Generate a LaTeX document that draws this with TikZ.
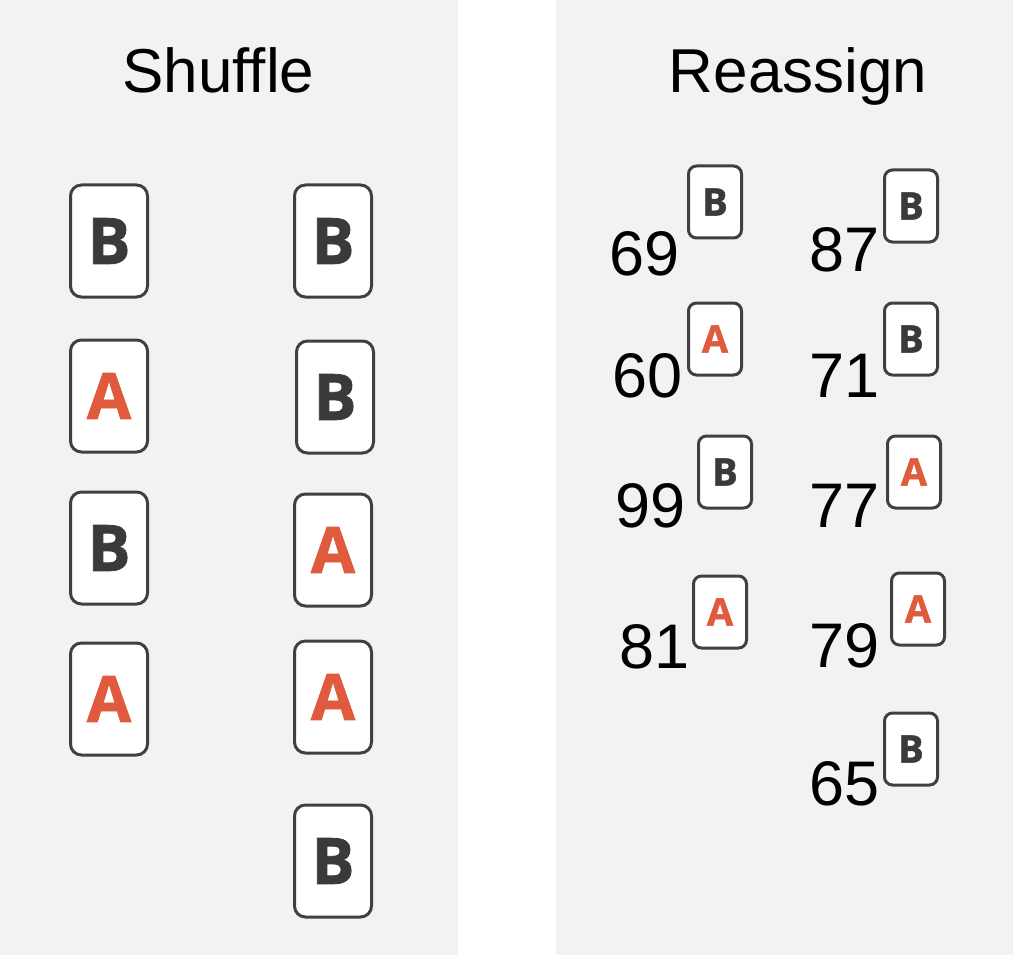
\documentclass[tikz,border=0pt]{standalone}
\usepackage{fontspec}
\setmainfont{Liberation Sans}
\newfontfamily\cardfont{Open Sans}[BoldFeatures={FakeBold=1.3}]
\definecolor{panelbg}{HTML}{F2F2F2}
\definecolor{cardline}{HTML}{404040}
\definecolor{letterB}{HTML}{3A3A3A}
\definecolor{letterA}{HTML}{E05A3D}
\tikzset{
  bigcard/.style={draw=cardline, fill=white, line width=3pt, rounded corners=11pt,
    minimum width=77pt, minimum height=112pt, inner sep=0pt,
    font=\cardfont\bfseries\fontsize{64}{64}\selectfont},
  smallcard/.style={draw=cardline, fill=white, line width=3pt, rounded corners=8pt,
    minimum width=53pt, minimum height=72pt, inner sep=0pt,
    font=\cardfont\bfseries\fontsize{38}{38}\selectfont},
  lA/.style={text=letterA},
  lB/.style={text=letterB},
  num/.style={anchor=base west, inner sep=0pt, font=\fontsize{63}{63}\selectfont},
  title/.style={anchor=base, inner sep=0pt, font=\fontsize{62}{62}\selectfont}
}
\begin{document}
\begin{tikzpicture}[x=1pt,y=-1pt]
\useasboundingbox (0,0) rectangle (1013,955);
\fill[panelbg] (0,0) rectangle (458,955);
\fill[panelbg] (556,0) rectangle (1013,955);
% titles
\node[title] (tshuffle) at (218.5,93) {Shuffle};
\node[title] (treassign) at (798,93) {Reassign};
% Shuffle, left column
\node[bigcard,lB] (s1) at (109,241) {B};
\node[bigcard,lA] (s2) at (109,396) {A};
\node[bigcard,lB] (s3) at (109,548) {B};
\node[bigcard,lA] (s4) at (109,699) {A};
% Shuffle, right column
\node[bigcard,lB] (r1) at (333,241) {B};
\node[bigcard,lB] (r2) at (335,397) {B};
\node[bigcard,lA] (r3) at (333,550) {A};
\node[bigcard,lA] (r4) at (333,697) {A};
\node[bigcard,lB] (r5) at (333,861) {B};
% Reassign, left column
\node[num] (n69) at (609.5,276) {69};
\node[smallcard,lB] (c69) at (715,202) {B};
\node[num] (n60) at (612,397) {60};
\node[smallcard,lA] (c60) at (715,339) {A};
\node[num] (n99) at (615.5,527) {99};
\node[smallcard,lB] (c99) at (725,472) {B};
\node[num] (n81) at (619.5,668) {81};
\node[smallcard,lA] (c81) at (720,612) {A};
% Reassign, right column
\node[num] (n87) at (809,271) {87};
\node[smallcard,lB] (c87) at (911,206) {B};
\node[num] (n71) at (809,397) {71};
\node[smallcard,lB] (c71) at (911,339) {B};
\node[num] (n77) at (809,527) {77};
\node[smallcard,lA] (c77) at (914,472) {A};
\node[num] (n79) at (809,667) {79};
\node[smallcard,lA] (c79) at (918,609) {A};
\node[num] (n65) at (809,805) {65};
\node[smallcard,lB] (c65) at (911,749) {B};
\end{tikzpicture}
\end{document}
